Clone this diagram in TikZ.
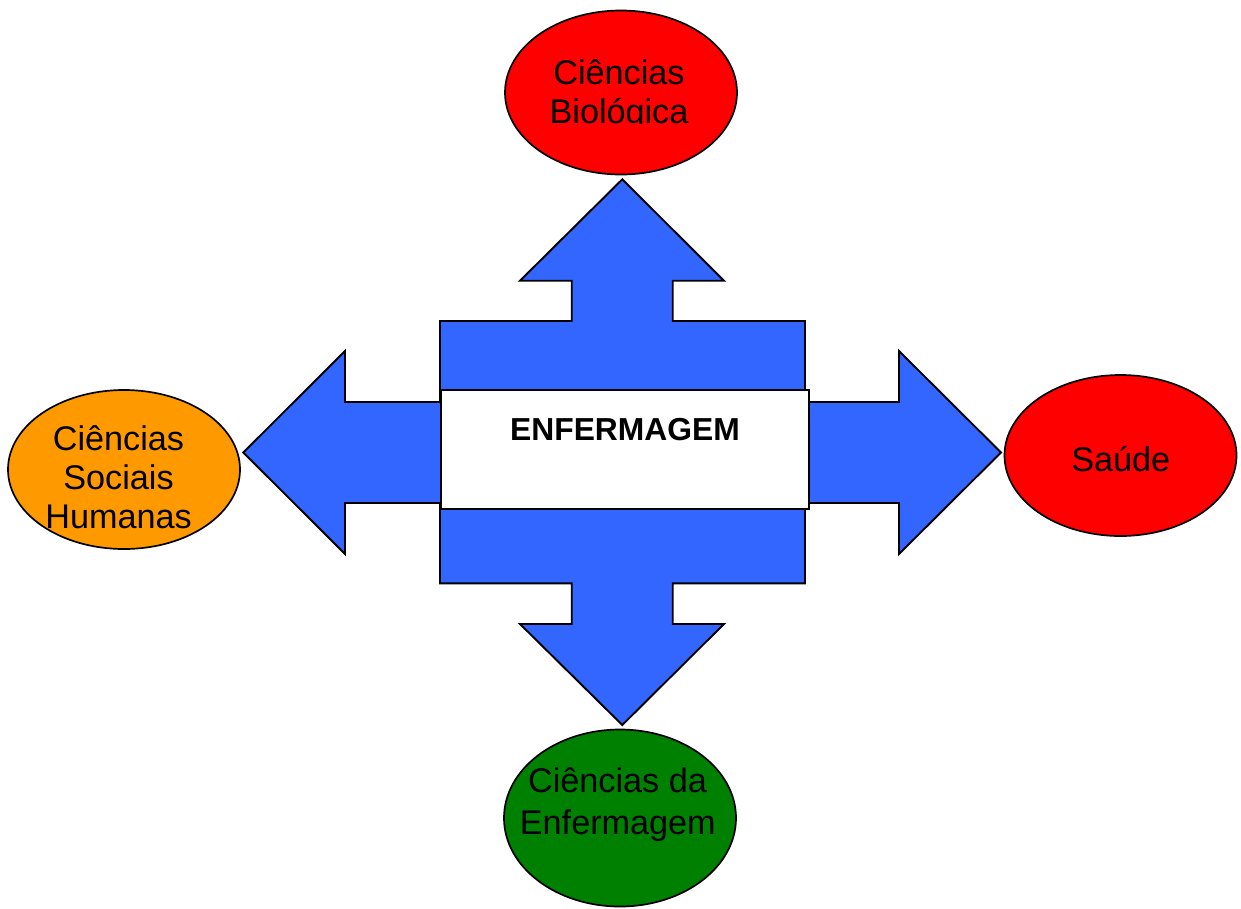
\documentclass[tikz,border=0pt]{standalone}
\usepackage{fontspec}
\setmainfont{Liberation Sans}
\usetikzlibrary{shapes.geometric}
\definecolor{arrowblue}{HTML}{3366FF}
\definecolor{bred}{HTML}{FF0000}
\definecolor{borange}{HTML}{FF9900}
\definecolor{bgreen}{HTML}{008000}
\tikzset{
  blob/.style={ellipse, draw=black, line width=1.7pt, inner sep=0pt, minimum width=232pt},
  lbl/.style={font=\fontsize{34.2}{40}\selectfont, anchor=base, inner sep=0pt, text=black},
  mainlbl/.style={font=\bfseries\fontsize{31.8}{38}\selectfont, anchor=base, inner sep=0pt},
  quad/.style={fill=arrowblue, draw=black, line width=1.9pt, line join=miter},
}
\begin{document}
\begin{tikzpicture}[x=1pt,y=-1pt]
\useasboundingbox (0,0) rectangle (1241,908);
% ellipses
\node[blob, fill=bred, minimum height=164pt] (bio) at (621,92.5) {};
\node[blob, fill=borange, minimum height=159pt] (soc) at (124,469.5) {};
\node[blob, fill=bred, minimum height=161pt] (sau) at (1120.5,455.5) {};
\node[blob, fill=bgreen, minimum height=177pt] (enf) at (620,818) {};
% blue four-way arrow
\draw[quad] (622.3,179.3) -- (724,280.7) -- (672.7,280.7) -- (672.7,321) -- (805,321)
  -- (805,402) -- (899,402) -- (899,351) -- (1001,452.5) -- (899,554) -- (899,503)
  -- (805,503) -- (805,583.3) -- (672.7,583.3) -- (672.7,624) -- (724,624)
  -- (622.3,725) -- (520,624) -- (571.7,624) -- (571.7,583.3) -- (440,583.3)
  -- (440,503) -- (345,503) -- (345,554) -- (243.3,452.5) -- (345,351) -- (345,402)
  -- (440,402) -- (440,321) -- (571.7,321) -- (571.7,280.7) -- (520,280.7) -- cycle;
% central box
\node[draw=black, fill=white, line width=1.7pt, inner sep=0pt,
      minimum width=368.6pt, minimum height=119pt] (box) at (625,449.2) {};
\node[mainlbl] (boxlbl) at (625,440.7) {ENFERMAGEM};
% labels
\node[lbl] (bio1) at (619,84.5) {Ciências};
\begin{scope}
  \clip (500,95) rectangle (740,123.6);
  \node[lbl] (bio2) at (619,123.5) {Biológica};
\end{scope}
\node[lbl] (soc1) at (118.5,450.5) {Ciências};
\node[lbl] (soc2) at (118.5,489.5) {Sociais};
\begin{scope}
  \clip (20,495) rectangle (230,529.2);
  \node[lbl] (soc3) at (118.5,528.8) {Humanas};
\end{scope}
\node[lbl] (sau1) at (1120.7,471) {Saúde};
\node[lbl] (enf1) at (617.5,792.5) {Ciências da};
\node[lbl] (enf2) at (617.8,834.3) {Enfermagem};
\end{tikzpicture}
\end{document}
